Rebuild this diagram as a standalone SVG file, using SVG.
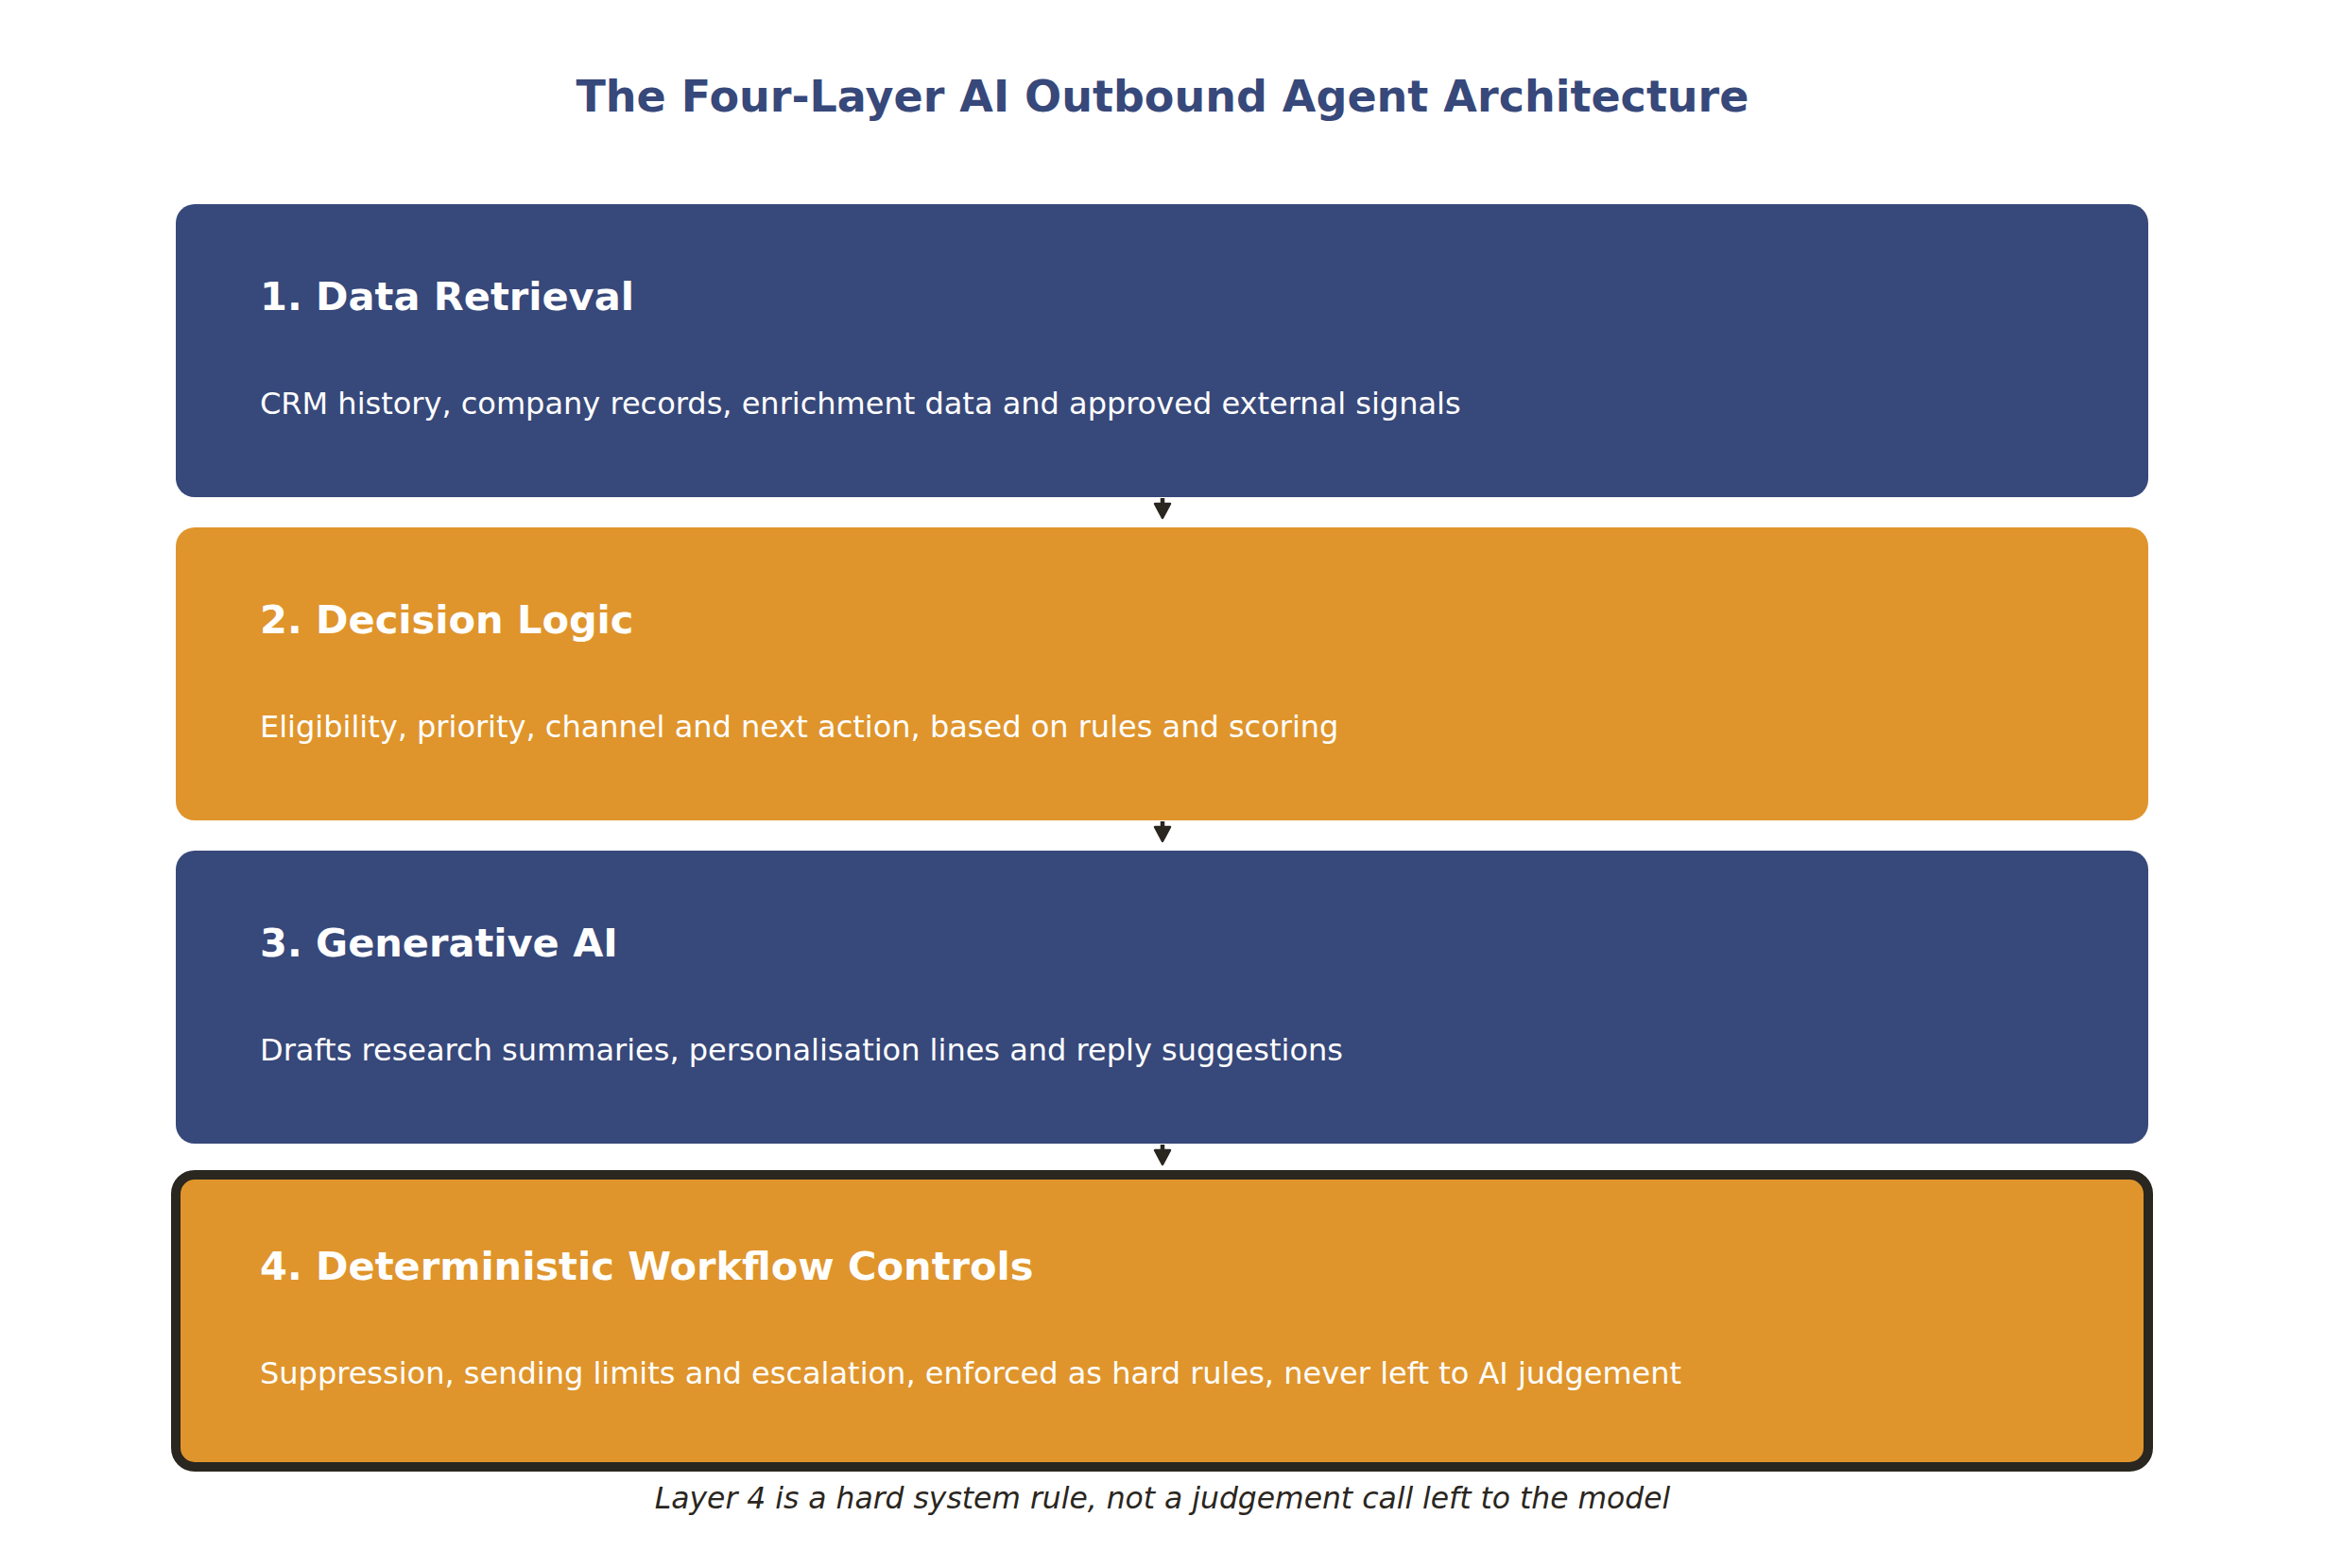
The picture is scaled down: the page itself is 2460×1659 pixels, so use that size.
<svg xmlns="http://www.w3.org/2000/svg" width="2460" height="1659" viewBox="0 0 2460 1659">
  <style>
    .title { font-family: "DejaVu Sans", "Liberation Sans", sans-serif; font-weight: bold; font-size: 46px; fill: #37487A; }
    .head { font-family: "DejaVu Sans", "Liberation Sans", sans-serif; font-weight: bold; font-size: 41.5px; fill: #FFFFFF; }
    .body { font-family: "DejaVu Sans", "Liberation Sans", sans-serif; font-size: 32px; fill: #FFFFFF; }
    .note { font-family: "DejaVu Sans", "Liberation Sans", sans-serif; font-style: italic; font-size: 31.4px; fill: #2A2620; }
    .navy { fill: #37487A; }
    .orange { fill: #DF952C; }
    .shaft { stroke: #2A2620; stroke-width: 4.5; fill: none; }
    .head-arrow { fill: #2A2620; stroke: #2A2620; stroke-width: 2.5; stroke-linejoin: round; }
  </style>
  <rect width="2460" height="1659" fill="#FFFFFF"/>
  <text class="title" x="1230" y="118" text-anchor="middle">The Four-Layer AI Outbound Agent Architecture</text>

  <g id="layer1">
    <rect class="navy" x="186" y="216" width="2087" height="310" rx="20" ry="20"/>
    <text class="head" x="275" y="328">1. Data Retrieval</text>
    <text class="body" x="275" y="438">CRM history, company records, enrichment data and approved external signals</text>
  </g>
  <g id="layer2">
    <rect class="orange" x="186" y="558" width="2087" height="310" rx="20" ry="20"/>
    <text class="head" x="275" y="670">2. Decision Logic</text>
    <text class="body" x="275" y="780">Eligibility, priority, channel and next action, based on rules and scoring</text>
  </g>
  <g id="layer3">
    <rect class="navy" x="186" y="900" width="2087" height="310" rx="20" ry="20"/>
    <text class="head" x="275" y="1012">3. Generative AI</text>
    <text class="body" x="275" y="1122">Drafts research summaries, personalisation lines and reply suggestions</text>
  </g>
  <g id="layer4">
    <rect class="orange" x="186" y="1243" width="2087" height="309" rx="20" ry="20" stroke="#2A2620" stroke-width="10"/>
    <text class="head" x="275" y="1354">4. Deterministic Workflow Controls</text>
    <text class="body" x="275" y="1464">Suppression, sending limits and escalation, enforced as hard rules, never left to AI judgement</text>
  </g>

  <g id="connectors">
    <line class="shaft" x1="1230" y1="527" x2="1230" y2="538"/>
    <path class="head-arrow" d="M1222,533 L1238,533 L1230,548 Z"/>
    <line class="shaft" x1="1230" y1="869" x2="1230" y2="880"/>
    <path class="head-arrow" d="M1222,875 L1238,875 L1230,890 Z"/>
    <line class="shaft" x1="1230" y1="1211" x2="1230" y2="1222"/>
    <path class="head-arrow" d="M1222,1217 L1238,1217 L1230,1232 Z"/>
  </g>

  <text class="note" x="1230" y="1596" text-anchor="middle">Layer 4 is a hard system rule, not a judgement call left to the model</text>
</svg>
